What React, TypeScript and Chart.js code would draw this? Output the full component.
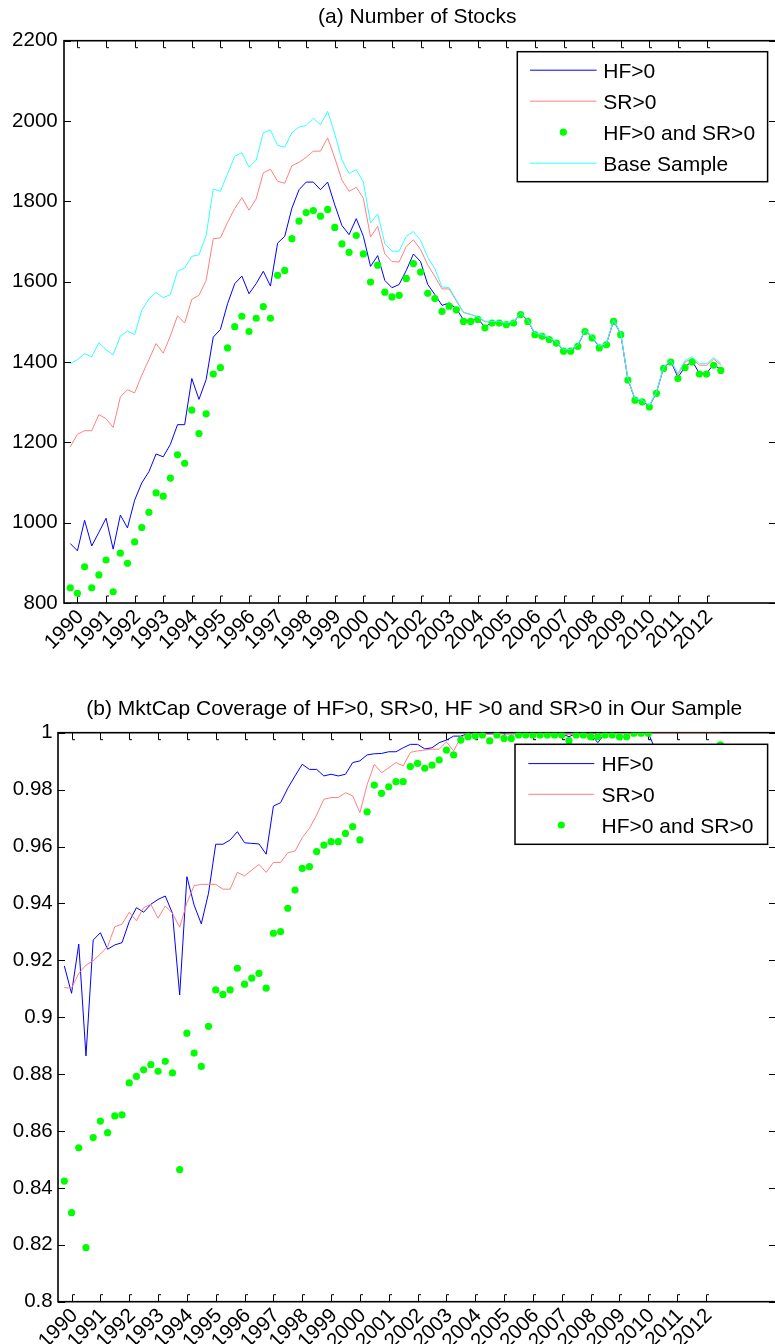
import React, { useEffect, useRef } from "react";
import { Chart, registerables } from "chart.js";

Chart.register(...registerables);

const FONT_FAMILY = "'Liberation Sans', Arial, Helvetica, sans-serif";

// Quarter-end dates in decimal years: 1989Q3 ... 2012Q2
const FIRST_QUARTER_END = 1989.75;
const QUARTER_COUNT = 92;
const QUARTER_DATES = Array.from({ length: QUARTER_COUNT }, (_, i) => FIRST_QUARTER_END + i * 0.25);

const YEAR_TICKS = [
  1990, 1991, 1992, 1993, 1994, 1995, 1996, 1997, 1998, 1999, 2000, 2001,
  2002, 2003, 2004, 2005, 2006, 2007, 2008, 2009, 2010, 2011, 2012,
];
const X_MIN = 1989.53;
const X_MAX = 2014.43;

const COUNT_TICKS = [800, 1000, 1200, 1400, 1600, 1800, 2000, 2200];
const COVER_TICKS = [0.8, 0.82, 0.84, 0.86, 0.88, 0.9, 0.92, 0.94, 0.96, 0.98, 1];

const LABEL_HF = "HF>0";
const LABEL_SR = "SR>0";
const LABEL_BOTH = "HF>0 and SR>0";
const LABEL_BASE = "Base Sample";

const TITLE_A = "(a) Number of Stocks";
const TITLE_B = "(b) MktCap Coverage of HF>0, SR>0, HF >0 and SR>0 in Our Sample";

// ---- Panel (a): number of stocks ----
const HF_COUNT = [
  948, 930, 1006, 942, 976, 1011, 934, 1019, 987, 1056,
  1099, 1127, 1171, 1164, 1195, 1244, 1244, 1359, 1307, 1356,
  1462, 1481, 1545, 1595, 1614, 1570, 1595, 1626, 1589, 1696,
  1713, 1783, 1829, 1848, 1848, 1829, 1848, 1791, 1740, 1717,
  1757, 1713, 1638, 1665, 1603, 1585, 1593, 1628, 1669, 1650,
  1593, 1568, 1541, 1547, 1533, 1505, 1503, 1508, 1487, 1499,
  1499, 1495, 1499, 1520, 1503, 1470, 1466, 1458, 1449, 1429,
  1429, 1441, 1478, 1462, 1437, 1445, 1503, 1470, 1357, 1307,
  1303, 1290, 1324, 1386, 1402, 1362, 1388, 1402, 1372, 1372,
  1394, 1381,
];
const SR_COUNT = [
  1189, 1220, 1229, 1229, 1269, 1259, 1237, 1313, 1331, 1323,
  1367, 1406, 1446, 1422, 1465, 1515, 1497, 1556, 1566, 1603,
  1707, 1709, 1748, 1782, 1809, 1778, 1806, 1871, 1880, 1850,
  1845, 1889, 1897, 1910, 1925, 1925, 1958, 1908, 1853, 1825,
  1835, 1808, 1711, 1738, 1669, 1650, 1649, 1688, 1704, 1680,
  1642, 1613, 1582, 1582, 1552, 1523, 1518, 1513, 1500, 1500,
  1500, 1496, 1500, 1521, 1504, 1471, 1467, 1459, 1450, 1430,
  1430, 1442, 1479, 1463, 1438, 1446, 1504, 1471, 1358, 1308,
  1304, 1291, 1325, 1387, 1403, 1368, 1400, 1409, 1392, 1392,
  1407, 1393,
];
const BOTH_COUNT = [
  838, 824, 890, 838, 870, 907, 828, 924, 899, 952,
  988, 1026, 1074, 1066, 1111, 1169, 1148, 1280, 1222, 1271,
  1370, 1386, 1435, 1488, 1514, 1476, 1509, 1538, 1509, 1616,
  1628, 1707, 1751, 1772, 1777, 1763, 1780, 1735, 1694, 1673,
  1715, 1669, 1599, 1641, 1574, 1562, 1566, 1608, 1645, 1624,
  1571, 1558, 1526, 1539, 1530, 1501, 1501, 1506, 1485, 1497,
  1497, 1493, 1497, 1518, 1501, 1468, 1464, 1456, 1447, 1427,
  1427, 1439, 1476, 1460, 1435, 1443, 1501, 1468, 1355, 1305,
  1301, 1288, 1322, 1384, 1400, 1359, 1386, 1400, 1370, 1370,
  1392, 1379,
];
const BASE_COUNT = [
  1396, 1406, 1421, 1413, 1448, 1431, 1418, 1465, 1477, 1468,
  1529, 1557, 1573, 1560, 1568, 1626, 1634, 1663, 1667, 1715,
  1831, 1825, 1869, 1912, 1921, 1885, 1902, 1971, 1978, 1939,
  1935, 1971, 1985, 1989, 2007, 1991, 2024, 1968, 1903, 1869,
  1879, 1848, 1746, 1769, 1695, 1676, 1676, 1713, 1725, 1703,
  1661, 1632, 1587, 1585, 1555, 1524, 1519, 1512, 1502, 1501,
  1501, 1497, 1501, 1522, 1505, 1472, 1468, 1460, 1451, 1431,
  1431, 1443, 1480, 1464, 1439, 1447, 1505, 1472, 1359, 1309,
  1305, 1292, 1326, 1388, 1404, 1372, 1404, 1413, 1396, 1396,
  1411, 1397,
];

// ---- Panel (b): market-cap coverage ----
const HF_COVER = [
  0.918, 0.9084, 0.9257, 0.8864, 0.9271, 0.9297, 0.9239, 0.9254, 0.9262, 0.9336,
  0.9385, 0.9369, 0.9397, 0.9414, 0.9426, 0.9365, 0.9078, 0.9494, 0.9394, 0.9328,
  0.9436, 0.9608, 0.9608, 0.9623, 0.9652, 0.9613, 0.9611, 0.9609, 0.9573, 0.9742,
  0.9754, 0.9805, 0.9848, 0.9889, 0.9871, 0.9871, 0.9848, 0.9854, 0.9848, 0.9854,
  0.9895, 0.9901, 0.9922, 0.9926, 0.9927, 0.9933, 0.9933, 0.9947, 0.9959, 0.9959,
  0.9943, 0.9947, 0.9965, 0.9974, 0.9988, 0.9988, 0.9997, 0.9997, 0.9998, 0.9996,
  0.9997, 0.9997, 0.9996, 0.9997, 0.9998, 0.9997, 0.9997, 0.9998, 0.9997, 0.9996,
  0.9986, 0.9997, 0.9998, 0.9996, 0.9965, 0.9997, 0.9998, 0.9997, 0.9997, 0.9998,
  0.9998, 0.9999, 0.994, 0.9938, 0.9942, 0.994, 0.9937, 0.9941, 0.9939, 0.994,
  0.9942, 0.9958,
];
const SR_COVER = [
  0.9104, 0.9102, 0.9154, 0.9183, 0.9198, 0.9222, 0.9248, 0.9318, 0.9327, 0.9369,
  0.9339, 0.9385, 0.9397, 0.9348, 0.9391, 0.9365, 0.9316, 0.9402, 0.9462, 0.9467,
  0.9467, 0.9467, 0.945, 0.945, 0.9509, 0.9497, 0.9517, 0.9537, 0.9509, 0.9544,
  0.9544, 0.9578, 0.9584, 0.9631, 0.9664, 0.9711, 0.9766, 0.9772, 0.9772, 0.9789,
  0.9778, 0.9719, 0.9817, 0.9889, 0.9859, 0.9877, 0.9895, 0.9883, 0.9931, 0.9936,
  0.9939, 0.9942, 0.9942, 0.9968, 0.9936, 0.9984, 0.9995, 0.9996, 0.9996, 0.9994,
  0.9997, 0.9995, 0.9996, 0.9996, 0.9997, 0.9996, 0.9996, 0.9997, 0.9996, 0.9995,
  0.9993, 0.9996, 0.9996, 0.9995, 0.9985, 0.9996, 0.9997, 0.9997, 0.9998, 0.9998,
  0.9999, 1, 1, 1, 1, 1, 1, 1, 1, 1,
  1, 1,
];
const BOTH_COVER = [
  0.8424, 0.8313, 0.8541, 0.819, 0.8577, 0.8635, 0.8594, 0.8653, 0.8657, 0.8769,
  0.8792, 0.8815, 0.8833, 0.881, 0.8845, 0.8804, 0.8464, 0.8944, 0.8874, 0.8827,
  0.8968, 0.9096, 0.908, 0.9096, 0.9172, 0.9116, 0.9137, 0.9154, 0.9102, 0.9295,
  0.9301, 0.9383, 0.9447, 0.9523, 0.9529, 0.9582, 0.9605, 0.9617, 0.9617, 0.9646,
  0.967, 0.9623, 0.9722, 0.9816, 0.9787, 0.981, 0.9828, 0.9828, 0.9881, 0.9892,
  0.9875, 0.9886, 0.9904, 0.9939, 0.9922, 0.9974, 0.9986, 0.9988, 0.9992, 0.9971,
  0.9992, 0.998, 0.998, 0.9992, 0.9992, 0.9992, 0.9992, 0.9992, 0.9992, 0.9992,
  0.9972, 0.9992, 0.9992, 0.9986, 0.9986, 0.9992, 0.9992, 0.9986, 0.9986, 0.9998,
  0.9998, 0.9998, 0.9925, 0.9922, 0.9928, 0.9925, 0.9921, 0.9926, 0.9924, 0.9925,
  0.9927, 0.9957,
];

const BLUE = "#0000ff";
const RED = "#ff8080";
const GREEN = "#00ff00";
const CYAN = "#33ffff";

const toPoints = (values: number[]) => values.map((y, i) => ({ x: QUARTER_DATES[i], y }));

const lineSet = (label: string, values: number[], color: string, order: number) => ({
  label,
  data: toPoints(values),
  borderColor: color,
  backgroundColor: color,
  borderWidth: 1,
  pointRadius: 0,
  tension: 0,
  fill: false,
  order,
});

const dotSet = (label: string, values: number[], order: number) => ({
  label,
  data: toPoints(values),
  showLine: false,
  borderColor: GREEN,
  backgroundColor: GREEN,
  borderWidth: 0,
  pointRadius: 3.6,
  pointBackgroundColor: GREEN,
  pointBorderColor: GREEN,
  pointBorderWidth: 0,
  order,
});

const frameTicksPlugin = {
  id: "frameTicks",
  beforeDatasetsDraw(chart: any) {
    const { ctx, chartArea: a, scales } = chart;
    const L = 7;
    ctx.save();
    ctx.strokeStyle = "#000";
    ctx.lineWidth = 1;
    for (const t of scales.x.ticks) {
      const px = Math.round(scales.x.getPixelForValue(t.value)) + 0.5;
      ctx.beginPath();
      ctx.moveTo(px, a.bottom);
      ctx.lineTo(px, a.bottom - L);
      ctx.lineTo(px + 2.5, a.bottom - L);
      ctx.moveTo(px, a.top);
      ctx.lineTo(px, a.top + L);
      ctx.lineTo(px + 2.5, a.top + L);
      ctx.stroke();
    }
    for (const t of scales.y.ticks) {
      const py = Math.round(scales.y.getPixelForValue(t.value)) + 0.5;
      ctx.beginPath();
      ctx.moveTo(a.left, py);
      ctx.lineTo(a.left + L, py);
      ctx.moveTo(a.right, py);
      ctx.lineTo(a.right - L, py);
      ctx.stroke();
    }
    ctx.lineWidth = 1.6;
    ctx.strokeRect(a.left, a.top, a.right - a.left, a.bottom - a.top);
    ctx.restore();
  },
};

const boxLegendPlugin = {
  id: "boxLegend",
  afterDatasetsDraw(chart: any, _args: any, o: any) {
    const { ctx, chartArea: a } = chart;
    const sets = chart.data.datasets;
    const h = 2 * o.firstRow + (sets.length - 1) * o.rowH;
    const x1 = a.right - o.right;
    const x0 = x1 - o.width;
    const y0 = a.top + o.top;
    ctx.save();
    ctx.fillStyle = "#fff";
    ctx.fillRect(x0, y0, o.width, h);
    ctx.strokeStyle = "#000";
    ctx.lineWidth = 1.5;
    ctx.strokeRect(x0, y0, o.width, h);
    ctx.font = `${o.fontSize}px ${FONT_FAMILY}`;
    ctx.textAlign = "left";
    ctx.textBaseline = "alphabetic";
    sets.forEach((ds: any, k: number) => {
      const cy = y0 + o.firstRow + k * o.rowH;
      if (ds.showLine === false) {
        ctx.fillStyle = ds.pointBackgroundColor;
        ctx.beginPath();
        ctx.arc(x0 + (o.lineX0 + o.lineX1) / 2, cy, ds.pointRadius, 0, Math.PI * 2);
        ctx.fill();
      } else {
        ctx.strokeStyle = ds.borderColor;
        ctx.lineWidth = ds.borderWidth;
        ctx.beginPath();
        ctx.moveTo(x0 + o.lineX0, cy);
        ctx.lineTo(x0 + o.lineX1, cy);
        ctx.stroke();
      }
      ctx.fillStyle = "#000";
      ctx.fillText(ds.label, x0 + o.textX, cy + 0.358 * o.fontSize);
    });
    ctx.restore();
  },
};

const panelTitlePlugin = {
  id: "panelTitle",
  afterDraw(chart: any, _args: any, o: any) {
    const { ctx, chartArea: a } = chart;
    ctx.save();
    ctx.font = `${o.fontSize}px ${FONT_FAMILY}`;
    ctx.fillStyle = "#000";
    ctx.textAlign = "center";
    ctx.textBaseline = "alphabetic";
    ctx.fillText(o.text, (a.left + a.right) / 2 + o.dx, o.capCenterY + 0.358 * o.fontSize);
    ctx.restore();
  },
};

type PanelSpec = {
  datasets: any[];
  yMin: number;
  yMax: number;
  yTicks: number[];
  yWidth: number;
  yPad: number;
  xHeight: number;
  padTop: number;
  title: string;
  titleY: number;
  legend: any;
};

function buildConfig(spec: PanelSpec): any {
  const tickFont = { family: FONT_FAMILY, size: 20.5 };
  return {
    type: "line",
    data: { datasets: spec.datasets },
    options: {
      animation: false,
      responsive: false,
      devicePixelRatio: 1,
      events: [],
      layout: { padding: { top: spec.padTop, right: 2.3, left: 0, bottom: 0 } },
      plugins: {
        legend: { display: false },
        tooltip: { enabled: false },
        title: { display: false },
        panelTitle: { text: spec.title, fontSize: 21, dx: -2.7, capCenterY: spec.titleY },
        boxLegend: spec.legend,
      },
      scales: {
        x: {
          type: "linear",
          position: "bottom",
          min: X_MIN,
          max: X_MAX,
          grid: { display: false, drawTicks: false },
          border: { display: false },
          afterBuildTicks: (s: any) => {
            s.ticks = YEAR_TICKS.map((v) => ({ value: v }));
          },
          ticks: {
            autoSkip: false,
            minRotation: 45,
            maxRotation: 45,
            padding: 2,
            labelOffset: 3,
            color: "#000",
            font: tickFont,
            callback: (v: any) => String(v),
          },
          afterFit: (s: any) => {
            s.height = spec.xHeight;
            s.paddingLeft = 0;
            s.paddingRight = 0;
          },
        },
        y: {
          type: "linear",
          min: spec.yMin,
          max: spec.yMax,
          grid: { display: false, drawTicks: false },
          border: { display: false },
          afterBuildTicks: (s: any) => {
            s.ticks = spec.yTicks.map((v) => ({ value: v }));
          },
          ticks: {
            padding: spec.yPad,
            color: "#000",
            font: tickFont,
            callback: (v: any) => String(v),
          },
          afterFit: (s: any) => {
            s.width = spec.yWidth;
            s.paddingTop = 0;
            s.paddingBottom = 0;
          },
        },
      },
    },
    plugins: [frameTicksPlugin, boxLegendPlugin, panelTitlePlugin],
  };
}

export default function App() {
  const topRef = useRef<HTMLCanvasElement | null>(null);
  const bottomRef = useRef<HTMLCanvasElement | null>(null);

  useEffect(() => {
    if (!topRef.current || !bottomRef.current) return;

    const top = new Chart(
      topRef.current,
      buildConfig({
        datasets: [
          lineSet(LABEL_HF, HF_COUNT, BLUE, 4),
          lineSet(LABEL_SR, SR_COUNT, RED, 3),
          dotSet(LABEL_BOTH, BOTH_COUNT, 2),
          lineSet(LABEL_BASE, BASE_COUNT, CYAN, 1),
        ],
        yMin: 800,
        yMax: 2200,
        yTicks: COUNT_TICKS,
        yWidth: 64,
        yPad: 6.3,
        xHeight: 57,
        padTop: 40.7,
        title: TITLE_A,
        titleY: 15.5,
        legend: {
          right: 8.4, top: 11, width: 250.3, rowH: 31, firstRow: 18.5,
          lineX0: 12.7, lineX1: 79.3, textX: 86, fontSize: 21,
        },
      })
    );

    const bottom = new Chart(
      bottomRef.current,
      buildConfig({
        datasets: [
          lineSet(LABEL_HF, HF_COVER, BLUE, 4),
          lineSet(LABEL_SR, SR_COVER, RED, 3),
          dotSet(LABEL_BOTH, BOTH_COVER, 2),
        ],
        yMin: 0.8,
        yMax: 1,
        yTicks: COVER_TICKS,
        yWidth: 58,
        yPad: 5.3,
        xHeight: 42.3,
        padTop: 72.7,
        title: TITLE_B,
        titleY: 47.5,
        legend: {
          right: 8.4, top: 11.6, width: 252.6, rowH: 30.7, firstRow: 19.3,
          lineX0: 13.3, lineX1: 79.3, textX: 86.6, fontSize: 21,
        },
      })
    );

    return () => {
      top.destroy();
      bottom.destroy();
    };
  }, []);

  return (
    <div
      style={{
        position: "absolute",
        left: 0,
        top: 0,
        width: 775,
        height: 1344,
        overflow: "hidden",
        background: "#fff",
      }}
    >
      <canvas
        ref={topRef}
        width={780}
        height={660}
        style={{ position: "absolute", left: 0, top: 0, width: 780, height: 660 }}
      />
      <canvas
        ref={bottomRef}
        width={780}
        height={684}
        style={{ position: "absolute", left: 0, top: 660, width: 780, height: 684 }}
      />
    </div>
  );
}
